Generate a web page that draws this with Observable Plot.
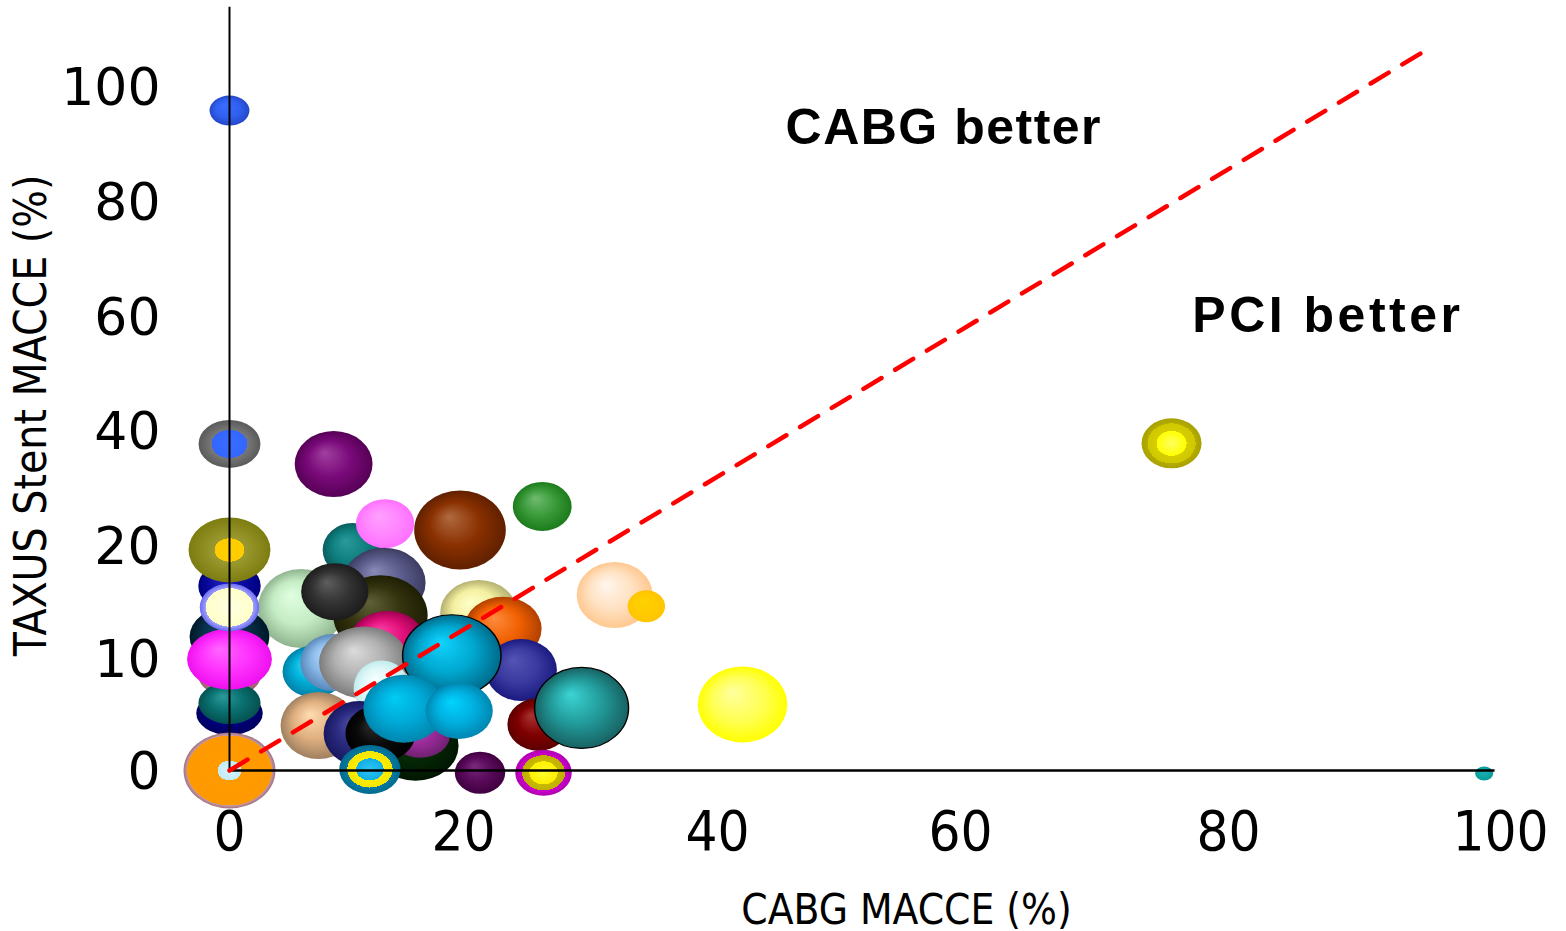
<!DOCTYPE html>
<html>
<head>
<meta charset="utf-8">
<script src="https://cdn.jsdelivr.net/npm/d3@7"></script>
<script src="https://cdn.jsdelivr.net/npm/@observablehq/plot@0.6"></script>
<style>
  html, body { margin: 0; padding: 0; background: #fff; }
  #chart svg { display: block; max-width: none; }
  svg [font-family*="Condensed"] { font-stretch: condensed; }
</style>
</head>
<body>
<div id="chart"></div>
<script>
// ---------- data ----------
// CABG MACCE (%) per study arm
const cabgMacce = [
  10.5, 13.3, 13.2, 6.1, 12.9, 9.0, 8.9, 19.7, 26.2, 21.2,
  23.1, 13.5, 7.2, 8.8, 11.5, 24.55, 19.0, 13.0, 7.6, 15.9,
  16.3, 11.1, 12.9, 14.9, 19.63, 25.9, 29.3, 12.0, 21.3, 26.3,
  31.9, 34.4, 42.06, 75.75, 98.8, 0, 0, 0, 0, 0,
  0, 0, 0, 0, 0, 0
];
// TAXUS Stent MACCE (%)
const taxusMacce = [
  19.6, 23.8, 16.7, 14.4, 13.8, 15.9, 34.2, 22.7, 26.8, 14.0,
  12.6, 11.6, 8.8, 9.6, 9.6, 8.93, 10.2, 7.3, 4.0, 2.2,
  3.1, 3.3, 3.3, 5.5, 5.29, 4.1, 5.56, 0.1, -0.2, -0.2,
  15.6, 14.6, 5.87, 37.8, -0.27, 95.8, 37.7, 5.1, 8.4, 6.0,
  11.9, 16.4, 9.9, 14.5, 19.6, 0
];
// relative bubble size (arbitrary units)
const bubbleSize = [
  54, 49, 70, 79, 80, 57, 66, 79, 49, 66,
  64, 58, 52, 57, 72, 62, 82, 56, 67, 70,
  44, 65, 57, 68, 56, 53, 81, 49, 42, 46,
  66, 32, 76, 50, 14, 30, 48, 44, 40, 42,
  60, 48, 61, 48, 65, 76
];
const xTicks = [0, 20, 40, 60, 80, 100];
const yTicks = [0, 10, 20, 40, 60, 80, 100];
const annotationText = ["CABG better", "PCI better"];
const annotationX = [45.6, 77.3];
const annotationY = [90.0, 57.2];
const diagonalX = [0, 94.5];
const diagonalY = [0, 106.3];
const axisTop = 113.8;
const axisRight = 99.6;

// ---------- styles ----------
const bubbleAspect = [
  1.1, 1.19, 1.19, 1.09, 1.18, 1.18, 1.18, 1.16, 1.2, 1.17,
  1.21, 1.28, 1.2, 1.13, 1.25, 1.15, 1.2, 1.0, 1.13, 1.23,
  1.35, 1.1, 1.23, 1.19, 1.2, 1.17, 1.16, 1.25, 1.2, 1.23,
  1.15, 1.17, 1.18, 1.2, 1.29, 1.33, 1.29, 1.51, 1.55, 1.48,
  1.33, 1.3, 1.39, 1.24, 1.26, 1.21
];
const sh = (l, m, d) => ({focal: true, stops: [[0, l], [0.55, m], [1, d]]});
const ring = (stops) => ({focal: false, stops});
const bubbleStops = [
  sh("#2a9a9a", "#108080", "#0a5e5e"),
  sh("#ffa0ff", "#ff88ff", "#ff70ff"),
  sh("#8a8ab8", "#5c5c8c", "#3c3c62"),
  sh("#e0ffe0", "#c4ecc4", "#8fb48f"),
  sh("#606038", "#34340f", "#1e1e04"),
  sh("#5e5e5e", "#333333", "#1c1c1c"),
  sh("#a040a0", "#7a0a7a", "#560056"),
  sh("#b06a40", "#8a3000", "#602000"),
  sh("#70bc70", "#3a9a3a", "#1c7c1c"),
  sh("#ffffc8", "#f4f0a0", "#b4b070"),
  sh("#ff8c40", "#f06000", "#b04000"),
  sh("#ff40a8", "#e0107a", "#a00050"),
  sh("#40dcff", "#00b0d8", "#0080a8"),
  sh("#b8dcff", "#88b8e8", "#5a88b8"),
  sh("#dcdcdc", "#b0b0b0", "#7c7c7c"),
  sh("#5454b4", "#3a3aa0", "#1a1a80"),
  sh("#10d4ff", "#00a8d0", "#006a8a"),
  sh("#f4ffff", "#e0f8f8", "#c0ecec"),
  sh("#ffdcb0", "#e0b080", "#a08060"),
  sh("#0c3c0c", "#052805", "#021602"),
  sh("#b848b8", "#9a2a9a", "#702070"),
  sh("#4c4ca4", "#2a2a80", "#181860"),
  sh("#303030", "#0a0a0a", "#000000"),
  sh("#00ccf4", "#00aad8", "#0086ae"),
  sh("#00d4ff", "#00b0e0", "#0086b0"),
  sh("#a83434", "#800000", "#5c0000"),
  sh("#3cd4d4", "#229a9a", "#186262"),
  ring([[0, "#30c4f4"], [0.45, "#10aee4"], [0.45, "#ffee00"], [0.74, "#f4e400"], [0.74, "#0a7aa0"], [1, "#006a90"]]),
  sh("#7a2a7a", "#5a0a5a", "#400040"),
  ring([[0, "#ffff30"], [0.5, "#ffee00"], [0.5, "#c8ba00"], [0.76, "#bfb000"], [0.76, "#cc00cc"], [1, "#b000b0"]]),
  {focal: true, stops: [[0, "#fff6ec"], [0.55, "#ffe2c4"], [1, "#ffc890"]]},
  sh("#ffd000", "#ffcc00", "#ffc400"),
  {focal: true, stops: [[0, "#ffffa0"], [0.6, "#ffff50"], [1, "#ffff00"]]},
  ring([[0, "#ffff60"], [0.5, "#ffff00"], [0.5, "#d6ce00"], [0.8, "#d0c800"], [0.8, "#b4ac00"], [1, "#a8a000"]]),
  sh("#20b4b4", "#10a8a8", "#0a9a9a"),
  {focal: true, stops: [[0, "#3a6cff"], [0.6, "#3060f0"], [1, "#2448c8"]]},
  ring([[0, "#3a6cff"], [0.58, "#3366ff"], [0.58, "#787878"], [0.8, "#686868"], [1, "#5a5a5a"]]),
  sh("#1414a4", "#000080", "#000060"),
  sh("#d498a8", "#c08090", "#a06070"),
  sh("#2a9a9a", "#0a7070", "#055050"),
  sh("#0c4464", "#08304a", "#001828"),
  sh("#2424c4", "#0a0aa0", "#000080"),
  sh("#ff66ff", "#ff33ff", "#ee10ee"),
  ring([[0, "#ffffe4"], [0.8, "#ffffc8"], [0.8, "#a0a0ff"], [1, "#6a6af0"]]),
  ring([[0, "#ffd000"], [0.36, "#ffcc00"], [0.36, "#9a9a30"], [1, "#7c7c10"]]),
  ring([[0, "#d8f4ff"], [0.26, "#c0ecf8"], [0.26, "#ff9a00"], [0.92, "#ff9900"], [0.92, "#c89aa0"], [1, "#a07080"]])
];
const outlinedBubbles = [16, 26];

const bubbles = cabgMacce.map((x, i) => ({
  x, y: taxusMacce[i], size: bubbleSize[i],
  fill: `url(#bubble-grad-${i})`,
  stroke: outlinedBubbles.includes(i) ? "#000" : "none"
}));

function gradientDefs() {
  const defs = d3.create("svg:defs");
  bubbleStops.forEach((g, i) => {
    const rg = defs.append("radialGradient")
      .attr("id", `bubble-grad-${i}`)
      .attr("cx", 0.5).attr("cy", 0.5).attr("r", 0.5);
    if (g.focal) rg.attr("fx", 0.38).attr("fy", 0.33);
    g.stops.forEach(([o, c]) => rg.append("stop").attr("offset", o).attr("stop-color", c));
  });
  return defs.node();
}

const condensed = "'DejaVu Sans Condensed', 'DejaVu Sans', sans-serif";

const chart = Plot.plot({
  width: 1566,
  height: 931,
  marginLeft: 250,
  marginRight: 4,
  marginTop: 60,
  marginBottom: 161,
  style: {background: "#fff", overflow: "visible"},
  x: {type: "linear", domain: xTicks, range: [229, 463, 717, 960, 1228, 1500]},
  y: {type: "linear", domain: [0, 20, 100], range: [770, 545, 86]},
  r: {type: "linear", domain: [0, 100], range: [0, 50]},
  color: {type: "identity"},
  marks: [
    gradientDefs,
    Plot.dot(bubbles, {
      x: "x", y: "y", r: "size", fill: "fill", stroke: "stroke", strokeWidth: 1.2, sort: null
    }),
    Plot.ruleX([0], {y1: 0, y2: axisTop, stroke: "#000", strokeWidth: 2}),
    Plot.ruleY([0], {x1: 0, x2: axisRight, stroke: "#000", strokeWidth: 2.5}),
    Plot.line(diagonalX.map((x, i) => [x, diagonalY[i]]), {
      stroke: "#ff0000", strokeWidth: 4.5, strokeDasharray: "21 16"
    }),
    Plot.text(annotationText, {
      x: (d, i) => annotationX[i], y: (d, i) => annotationY[i], text: d => d,
      textAnchor: "start", lineAnchor: "bottom",
      fontSize: 50, fontWeight: "bold", fontFamily: "'Liberation Sans', Arial, sans-serif", fill: "#000"
    }),
    Plot.axisY(yTicks, {
      anchor: "left", tickSize: 0, tickPadding: 90, dy: 2, fontSize: 52,
      fontFamily: "'DejaVu Sans', sans-serif", label: null, fill: "#000"
    }),
    Plot.axisY([], {
      anchor: "left", tickSize: 0, label: "TAXUS Stent MACCE (%)", labelAnchor: "center",
      labelOffset: 236, labelArrow: "none", fontSize: 44, fontFamily: condensed, fill: "#000"
    }),
    Plot.axisX(xTicks, {
      anchor: "bottom", tickSize: 0, tickPadding: 40, fontSize: 56,
      fontFamily: condensed, label: null, fill: "#000"
    }),
    Plot.axisX([], {
      anchor: "bottom", tickSize: 0, label: "CABG MACCE (%)", labelAnchor: "center",
      labelOffset: 153, labelArrow: "none", fontSize: 42, fontFamily: condensed, fill: "#000"
    })
  ]
});

// make the bubbles elliptical (each circle is bound to its data index)
chart.querySelectorAll("circle").forEach(c => {
  const i = c.__data__;
  if (typeof i !== "number") return;
  const a = bubbleAspect[i];
  const cx = +c.getAttribute("cx"), cy = +c.getAttribute("cy");
  c.setAttribute("transform", `translate(${cx} ${cy}) scale(${a} 1) translate(${-cx} ${-cy})`);
});
// letter spacing for the annotations
chart.querySelectorAll("text").forEach(t => {
  if (t.textContent === "CABG better") t.setAttribute("letter-spacing", "1.5");
  if (t.textContent === "PCI better") t.setAttribute("letter-spacing", "3.5");
});

document.getElementById("chart").appendChild(chart);
</script>
</body>
</html>
